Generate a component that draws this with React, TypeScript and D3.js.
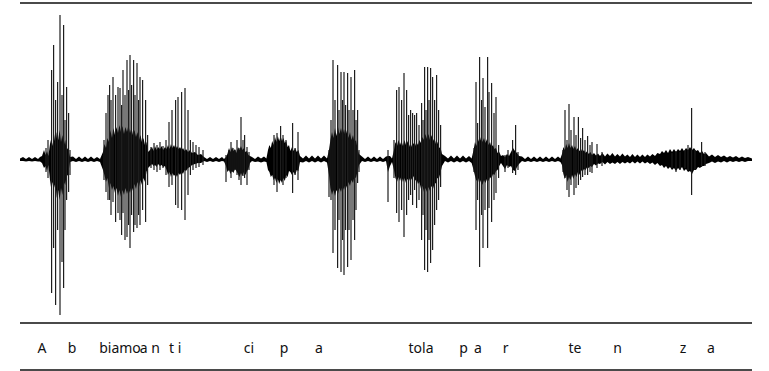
import React, { Component } from 'react'
import * as d3 from 'd3'

// dense body of the trace, [time in ms, upper, lower]
const envelope: [number, number, number][] = [
  // lead-in
  [0, 15, -10], [15, 30, -10], [30, 10, -15], [45, 30, -10], [60, 10, -15], [75, 30, -10], [90, 10, -15],
  [100, 30, -15], [110, 40, -30],
  // A b
  [120, 100, -80], [128, 50, -60], [135, 90, -110], [142, 40, -50], [150, 160, -200], [157, 220, -300],
  [163, 140, -220], [170, 260, -280], [177, 160, -230], [184, 280, -380], [191, 200, -300], [198, 300, -400],
  [205, 180, -280], [212, 250, -350], [219, 150, -220], [226, 200, -250], [233, 100, -160], [240, 120, -150],
  [250, 30, -20],
  [265, 35, -10], [280, 10, -20], [295, 35, -10], [310, 10, -20], [325, 35, -10], [340, 10, -20],
  [355, 35, -10], [370, 10, -20], [385, 30, -10], [400, 10, -20],
  // biamo a n
  [415, 80, -100], [422, 160, -150], [430, 120, -220], [437, 220, -180], [445, 180, -280], [452, 300, -230],
  [460, 220, -300], [467, 320, -260], [475, 250, -330], [482, 330, -280], [490, 270, -360], [497, 350, -300],
  [505, 280, -370], [512, 340, -300], [520, 260, -350], [527, 330, -280], [535, 280, -340], [542, 350, -290],
  [550, 270, -330], [557, 320, -260], [565, 250, -310], [572, 300, -240], [580, 230, -290], [587, 280, -220],
  [595, 200, -270], [602, 250, -200], [610, 180, -250], [617, 220, -180], [625, 150, -220], [632, 180, -120],
  [640, 80, -80],
  // t i
  [650, 100, -60], [660, 130, -40], [668, 90, -60], [675, 140, -50], [683, 100, -70], [690, 130, -40],
  [700, 110, -60], [708, 140, -50], [716, 100, -70], [725, 130, -60], [733, 110, -100], [740, 150, -150],
  [748, 110, -120], [755, 160, -170], [762, 120, -130], [770, 150, -160], [778, 110, -140], [785, 140, -170],
  [793, 110, -130], [800, 130, -150], [808, 100, -120], [815, 120, -140], [823, 90, -100], [830, 110, -110],
  [840, 80, -80], [850, 100, -70], [860, 70, -50], [875, 80, -40], [890, 50, -30], [905, 60, -30],
  [920, 30, -10], [935, 10, -20], [950, 30, -10], [965, 10, -20], [980, 30, -10], [995, 10, -20],
  [1010, 30, -10], [1020, 10, -15],
  // ci
  [1030, 30, -60], [1037, 60, -120], [1045, 120, -100], [1052, 80, -140], [1060, 130, -110], [1067, 90, -130],
  [1075, 110, -90], [1082, 70, -110], [1090, 130, -140], [1097, 100, -170], [1105, 140, -130], [1112, 100, -160],
  [1120, 120, -120], [1127, 80, -150], [1135, 90, -110], [1142, 50, -90], [1150, 40, -30],
  [1160, 30, -10], [1175, 10, -20], [1190, 35, -15], [1205, 15, -25], [1220, 35, -15], [1232, 15, -20],
  // p
  [1240, 100, -100], [1247, 150, -120], [1254, 120, -170], [1261, 190, -150], [1268, 150, -200], [1275, 230, -180],
  [1282, 180, -230], [1289, 240, -190], [1296, 190, -240], [1303, 240, -200], [1310, 190, -230], [1317, 220, -180],
  [1324, 170, -210], [1331, 190, -150], [1338, 130, -170], [1345, 150, -110], [1352, 90, -120], [1360, 130, -150],
  [1368, 90, -120], [1376, 120, -150], [1384, 80, -100], [1392, 100, -110],
  [1400, 40, -20], [1415, 15, -25], [1430, 45, -10], [1445, 15, -25], [1460, 45, -10], [1475, 15, -25],
  [1490, 45, -10], [1505, 15, -25], [1520, 45, -10], [1535, 15, -25],
  // a
  [1545, 100, -150], [1552, 200, -280], [1560, 280, -350], [1567, 220, -300], [1575, 320, -360], [1582, 240, -300],
  [1590, 330, -340], [1597, 260, -280], [1605, 320, -320], [1612, 250, -260], [1620, 310, -300], [1627, 240, -240],
  [1635, 300, -280], [1642, 220, -220], [1650, 280, -260], [1657, 200, -200], [1665, 250, -230], [1672, 180, -170],
  [1680, 200, -180], [1688, 110, -110], [1695, 60, -50],
  [1710, 35, -10], [1725, 10, -20], [1740, 35, -10], [1755, 10, -20], [1770, 35, -10], [1785, 10, -20],
  [1800, 35, -10], [1815, 10, -20], [1830, 35, -10], [1840, 40, -120], [1850, 40, -60], [1860, 15, -20],
  // tola
  [1870, 100, -100], [1877, 180, -180], [1885, 140, -220], [1892, 200, -170], [1900, 150, -210], [1907, 190, -160],
  [1915, 140, -220], [1922, 200, -180], [1930, 150, -230], [1937, 190, -190], [1945, 130, -210], [1952, 170, -170],
  [1960, 130, -200], [1967, 170, -160], [1975, 140, -210], [1982, 180, -190], [1990, 150, -240], [1997, 200, -220],
  [2005, 170, -290], [2012, 230, -260], [2020, 200, -320], [2027, 260, -280], [2035, 210, -320], [2042, 260, -270],
  [2050, 200, -310], [2057, 250, -260], [2065, 190, -290], [2072, 220, -240], [2080, 160, -230], [2087, 180, -180],
  [2095, 120, -180], [2102, 130, -130], [2110, 60, -60],
  [2125, 40, -10], [2140, 15, -25], [2155, 45, -10], [2170, 15, -25], [2185, 45, -10], [2200, 15, -25],
  [2215, 45, -10], [2230, 15, -25], [2245, 40, -10], [2258, 15, -30],
  // p a r
  [2268, 100, -100], [2275, 180, -160], [2282, 140, -210], [2290, 210, -180], [2297, 170, -240], [2305, 230, -200],
  [2312, 180, -250], [2320, 220, -200], [2327, 170, -230], [2335, 210, -190], [2342, 150, -210], [2350, 180, -170],
  [2357, 130, -190], [2365, 150, -140], [2372, 110, -150], [2380, 120, -110], [2388, 70, -100], [2396, 80, -60],
  [2405, 40, -30], [2415, 50, -60], [2425, 30, -90], [2435, 60, -50], [2445, 40, -70], [2455, 80, -60],
  [2465, 120, -100], [2475, 90, -110], [2485, 70, -70], [2495, 40, -40],
  [2510, 35, -10], [2525, 10, -20], [2540, 35, -10], [2555, 10, -20], [2570, 35, -10], [2585, 10, -20],
  [2600, 35, -10], [2615, 10, -20], [2630, 35, -10], [2645, 10, -20], [2660, 35, -10], [2675, 10, -20],
  [2690, 35, -10], [2702, 15, -20],
  // te n
  [2710, 60, -50], [2717, 130, -140], [2724, 100, -190], [2731, 160, -150], [2738, 120, -220], [2745, 170, -170],
  [2752, 120, -200], [2760, 150, -150], [2767, 110, -190], [2775, 140, -140], [2782, 100, -170], [2790, 120, -120],
  [2797, 90, -150], [2805, 110, -100], [2812, 80, -120], [2820, 100, -90], [2828, 70, -100], [2836, 90, -70],
  [2844, 60, -80], [2852, 80, -60], [2860, 50, -70], [2870, 70, -40], [2880, 45, -55], [2890, 65, -35],
  [2900, 40, -40], [2912, 70, -20], [2925, 35, -45], [2937, 65, -20], [2950, 40, -40], [2962, 70, -25],
  [2975, 35, -40], [2987, 60, -20], [3000, 35, -40], [3012, 65, -20], [3025, 35, -35], [3037, 55, -20],
  [3050, 30, -35], [3062, 60, -15], [3075, 30, -35], [3087, 55, -15], [3100, 30, -35], [3112, 55, -15],
  [3125, 30, -35], [3137, 55, -20], [3150, 35, -40], [3162, 60, -25], [3175, 40, -50], [3187, 70, -30],
  // z a
  [3200, 60, -60], [3210, 90, -50], [3220, 70, -80], [3230, 100, -60], [3240, 70, -90], [3250, 110, -70],
  [3260, 80, -100], [3270, 110, -80], [3280, 80, -110], [3290, 110, -80], [3300, 90, -100], [3310, 120, -70],
  [3320, 90, -110], [3330, 120, -90], [3340, 100, -120], [3350, 130, -110], [3360, 100, -140], [3370, 120, -100],
  [3380, 90, -100], [3390, 100, -70], [3400, 70, -80], [3410, 90, -60], [3420, 60, -60], [3430, 70, -40],
  [3445, 35, -30], [3460, 55, -15], [3475, 30, -30], [3490, 50, -15], [3505, 30, -25], [3520, 45, -10],
  [3535, 25, -25], [3550, 40, -10], [3565, 25, -20], [3580, 40, -10], [3595, 20, -20], [3610, 35, -10],
  [3625, 20, -20], [3640, 30, -10], [3660, 15, -10]
]

// single pulses that stick out of the body, [time in ms, peak, trough]
const spikes: [number, number, number][] = [
  // A b
  [130, 120, -120], [140, 200, -180], [158, 900, -1330], [168, 1150, -880], [178, 600, -1450],
  [188, 780, -700], [200, 1450, -1550], [210, 650, -1020], [218, 1350, -1280], [225, 400, -700],
  [233, 730, -400], [243, 470, -320], [250, 100, -150],
  // biamo a n
  [420, 200, -200], [430, 470, -320], [440, 650, -400], [448, 750, -400], [455, 600, -550],
  [465, 830, -420], [478, 650, -620], [490, 730, -530], [500, 720, -600], [508, 550, -750],
  [515, 900, -530], [525, 650, -800], [535, 1000, -770], [543, 700, -650], [550, 1050, -880],
  [558, 750, -550], [568, 1000, -720], [575, 650, -650], [585, 970, -680], [593, 600, -550],
  [600, 830, -650], [613, 800, -500], [628, 600, -620], [638, 250, -250],
  // t i
  [655, 130, -80], [670, 170, -100], [685, 150, -120], [700, 180, -100], [715, 140, -80],
  [730, 200, -150], [745, 380, -270], [760, 500, -250], [778, 600, -450], [790, 630, -480],
  [808, 680, -500], [825, 720, -600], [840, 500, -350], [852, 200, -150], [865, 180, -100],
  [880, 150, -80], [895, 130, -70], [915, 100, -50], [1030, 50, -220],
  // ci
  [1045, 100, -100], [1055, 180, -180], [1065, 120, -120], [1075, 100, -100], [1085, 200, -150],
  [1095, 120, -200], [1105, 430, -250], [1115, 200, -160], [1123, 250, -180], [1135, 130, -250],
  [1145, 80, -100],
  // p
  [1270, 250, -250], [1285, 270, -320], [1303, 340, -200], [1315, 250, -250], [1330, 200, -180],
  [1363, 370, -330], [1375, 120, -150], [1390, 280, -200],
  // a
  [1545, 100, -370], [1555, 400, -400], [1565, 1000, -930], [1575, 600, -700], [1588, 950, -1080],
  [1595, 500, -600], [1605, 880, -1120], [1613, 600, -800], [1620, 880, -1150], [1628, 550, -700],
  [1638, 870, -1070], [1645, 500, -700], [1655, 830, -1000], [1665, 500, -600], [1673, 900, -800],
  [1680, 400, -500], [1688, 500, -230], [1695, 100, -120], [1840, 100, -420],
  // tola
  [1870, 200, -180], [1883, 700, -530], [1895, 730, -620], [1908, 600, -500], [1920, 870, -770],
  [1933, 700, -550], [1943, 450, -400], [1953, 500, -350], [1963, 470, -450], [1973, 450, -300],
  [1983, 470, -480], [1995, 350, -400], [2008, 570, -800], [2015, 400, -550], [2023, 930, -1100],
  [2030, 500, -700], [2038, 930, -1120], [2045, 600, -800], [2053, 920, -1030], [2063, 830, -900],
  [2073, 600, -650], [2083, 850, -500], [2093, 500, -400], [2103, 350, -270],
  // p a r
  [2270, 120, -120], [2280, 780, -700], [2288, 370, -400], [2298, 1030, -1070], [2308, 600, -550],
  [2315, 820, -880], [2325, 530, -500], [2338, 1030, -880], [2345, 680, -480], [2358, 770, -620],
  [2370, 470, -400], [2380, 630, -330], [2393, 150, -180], [2425, 50, -120], [2440, 100, -80],
  [2463, 200, -130], [2478, 350, -150], [2490, 80, -100],
  // te n
  [2715, 100, -120], [2725, 500, -180], [2735, 200, -300], [2745, 560, -370], [2755, 300, -250],
  [2770, 430, -350], [2780, 250, -280], [2792, 430, -250], [2803, 220, -200], [2813, 320, -170],
  [2825, 200, -150], [2838, 240, -150], [2850, 150, -120], [2860, 180, -130], [2885, 160, -80],
  [2910, 80, -60],
  // z a
  [3260, 70, -80], [3280, 90, -120], [3300, 80, -100], [3325, 100, -80], [3340, 150, -100],
  [3358, 520, -350], [3375, 100, -100], [3408, 180, -70], [3425, 80, -60]
]

const labelWords = ['A', 'b', 'biamo', 'a', 'n', 't', 'i', 'ci', 'p', 'a', 'tola', 'p', 'a', 'r', 'te', 'n', 'z', 'a']
const labelTimes = [110, 260, 500, 618, 678, 758, 798, 1145, 1320, 1495, 2005, 2218, 2290, 2428, 2775, 2988, 3315, 3455]

const duration = 3660
const fullScale = 1600

class Waveform extends Component {
  svgRef = React.createRef<SVGSVGElement>()

  componentDidMount() {
    this.draw()
  }

  draw() {
    const svg = d3.select(this.svgRef.current)
    svg.selectAll('*').remove()

    const x = d3.scaleLinear().domain([0, duration]).range([20, 752])
    const y = d3.scaleLinear().domain([-fullScale, fullScale]).range([320, 0])
    const [x0, x1] = x.range()

    // rules above, below, and under the labels
    ;[3, 323, 370].forEach((ry) => {
      svg.append('line')
        .attr('x1', x0).attr('x2', x1)
        .attr('y1', ry).attr('y2', ry)
        .attr('stroke', '#4a4a4a')
        .attr('stroke-width', 2)
    })

    const body = d3.area<[number, number, number]>()
      .x((d) => x(d[0]))
      .y0((d) => y(d[2]))
      .y1((d) => y(d[1]))

    svg.append('path')
      .datum(envelope)
      .attr('d', body)
      .attr('fill', '#000')

    svg.append('g')
      .selectAll('line')
      .data(spikes)
      .enter().append('line')
        .attr('x1', (d) => x(d[0]))
        .attr('x2', (d) => x(d[0]))
        .attr('y1', (d) => y(d[1]))
        .attr('y2', (d) => y(d[2]))
        .attr('stroke', '#1e1e1e')
        .attr('stroke-width', 1.2)

    svg.append('g')
      .selectAll('text')
      .data(labelWords)
      .enter().append('text')
        .attr('x', (d, i) => x(labelTimes[i]))
        .attr('y', 352.5)
        .attr('text-anchor', 'middle')
        .attr('font-family', '"Noto Sans", sans-serif')
        .attr('font-size', 14)
        .attr('fill', '#111')
        .text((d) => d)
  }

  render() {
    return (
      <svg
        ref={this.svgRef}
        width={769}
        height={371}
        style={{ position: 'absolute', left: 0, top: 0, background: '#fff' }}
      />
    )
  }
}

export default function App() {
  return <Waveform />
}
